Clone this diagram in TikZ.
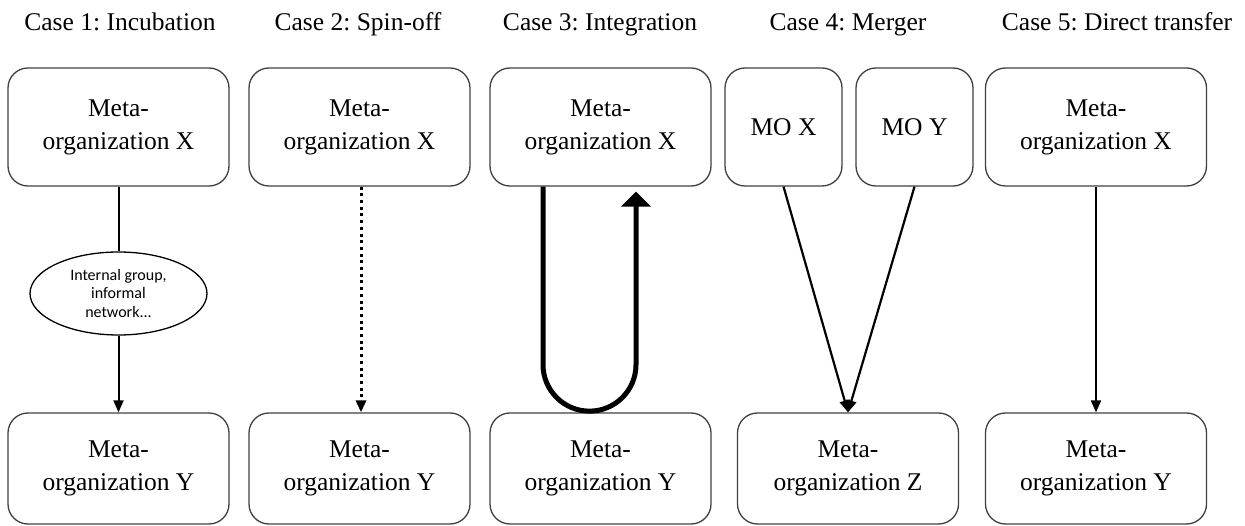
\documentclass[tikz,border=0pt]{standalone}
\usepackage{fontspec}
\setmainfont{Liberation Serif}
\newfontfamily\ellfont{Carlito}
\usetikzlibrary{arrows.meta,shapes.geometric,calc}
\frenchspacing
\begin{document}
\begin{tikzpicture}[x=1pt,y=1pt,
  mobox/.style={draw=black!75, line width=1.3pt, rounded corners=20pt, align=center,
    font=\frenchspacing\fontsize{25.5}{33}\selectfont, inner sep=0pt},
  topbox/.style={mobox, minimum width=221pt, minimum height=118pt},
  botbox/.style={mobox, minimum width=221pt, minimum height=111pt},
  smallbox/.style={mobox, minimum width=117pt, minimum height=118pt},
  title/.style={font=\frenchspacing\fontsize{25.5}{30}\selectfont, inner sep=0pt, anchor=base},
  conn/.style={line width=2pt, -{Triangle[width=10pt,length=12pt]}},
  plain/.style={line width=2pt}
]
\useasboundingbox (0,0) rectangle (1245,-526);

% titles
\node[title] (t1) at (120,-31) {Case 1: Incubation};
\node[title] (t2) at (358,-31) {Case 2: Spin-off};
\node[title] (t3) at (600,-31) {Case 3: Integration};
\node[title] (t4) at (848,-31) {Case 4: Merger};
\node[title] (t5) at (1117,-31) {Case 5: Direct transfer};

% top boxes
\node[topbox] (x1) at (118.5,-127) {Meta-\\organization X};
\node[topbox] (x2) at (359.5,-127) {Meta-\\organization X};
\node[topbox] (x3) at (600.5,-127) {Meta-\\organization X};
\node[smallbox] (mx) at (783.5,-127) {MO X};
\node[smallbox] (my) at (914.5,-127) {MO Y};
\node[topbox] (x5) at (1096,-127) {Meta-\\organization X};

% bottom boxes
\node[botbox] (y1) at (118.5,-468.5) {Meta-\\organization Y};
\node[botbox] (y2) at (359.5,-468.5) {Meta-\\organization Y};
\node[botbox] (y3) at (600.5,-468.5) {Meta-\\organization Y};
\node[botbox] (z4) at (848,-468.5) {Meta-\\organization Z};
\node[botbox] (y5) at (1096,-468.5) {Meta-\\organization Y};

% ellipse
\node[draw, line width=1.3pt, ellipse, minimum width=177pt, minimum height=83pt, inner sep=0pt,
  align=center, font=\ellfont\fontsize{16}{18.5}\selectfont] (e1) at (118.5,-293.5)
  {Internal group,\\informal\\network...};

% case 1
\draw[plain] (x1.south) -- (e1.north);
\draw[conn] (e1.south) -- (y1.north);

% case 2
\draw[line width=3pt, dash pattern=on 3pt off 3.7pt, -{Triangle[width=10pt,length=12pt]}]
  ($(x2.south)+(1.5,0)$) -- ($(y2.north)+(1.5,0)$);

% case 3
\coordinate (u1) at ($(x3.south)+(-57.5,0)$);
\coordinate (u2) at ($(x3.south)+(35.5,-5)$);
\draw[line width=5pt, -{Triangle[width=29pt,length=15pt]}]
  (u1) -- ++(0,-178) arc[start angle=180, end angle=360, radius=46.5pt] -- (u2);

% case 4
\draw[conn, line width=2.2pt] (mx.south) -- (z4.north);
\draw[conn, line width=2.2pt] (my.south) -- (z4.north);

% case 5
\draw[conn] (x5.south) -- (y5.north);
\end{tikzpicture}
\end{document}
